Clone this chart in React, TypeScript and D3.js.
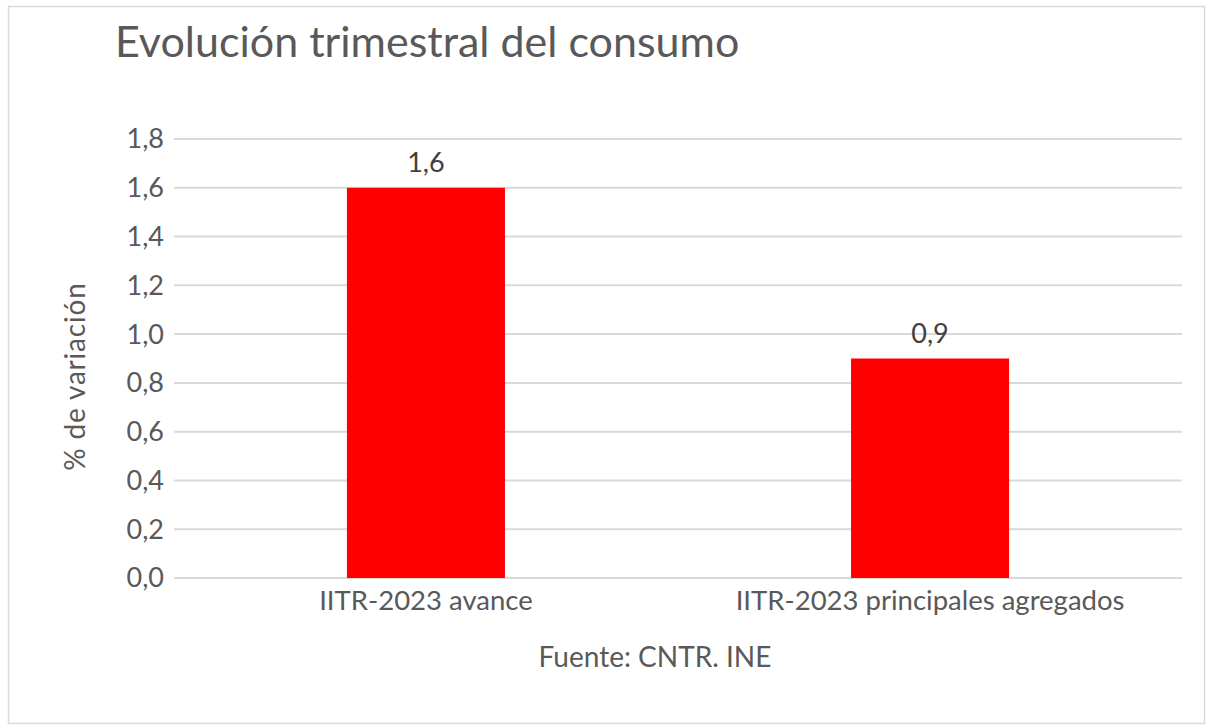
import * as d3 from "d3";

const CATEGORIES = ["IITR-2023 avance", "IITR-2023 principales agregados"];
const VALUES = [1.6, 0.9];
const Y_TICKS = [0, 0.2, 0.4, 0.6, 0.8, 1.0, 1.2, 1.4, 1.6, 1.8];

const W = 1214;
const H = 728;
const FONT = "Lato, 'Open Sans', sans-serif";
const GREY = "#595959";
const GRID = "#d9d9d9";
const RED = "#ff0000";

const fmt = (v: number) => v.toFixed(1).replace(".", ",");

export default function App() {
  const margin = { left: 174, right: 32, top: 139, bottom: 150 };
  const x = d3
    .scaleBand<string>()
    .domain(CATEGORIES)
    .range([margin.left, W - margin.right])
    .paddingInner(0.6865)
    .paddingOuter(0.343);
  const y = d3.scaleLinear().domain([0, 1.8]).range([H - margin.bottom, margin.top]);

  return (
    <div style={{ position: "absolute", left: 0, top: 0 }}>
      <svg width={W} height={H} style={{ display: "block", fontFamily: FONT }}>
        <rect x={0} y={0} width={W} height={H} fill="#fff" />
        <rect x={8.5} y={6.5} width={1196} height={717} fill="none" stroke={GRID} strokeWidth={1.5} />

        <text x={115} y={57} fontSize={43} fill={GREY}>
          Evolución trimestral del consumo
        </text>

        {/* gridlines */}
        {Y_TICKS.map((t) => (
          <g key={t}>
            <line
              x1={margin.left}
              x2={W - margin.right}
              y1={y(t)}
              y2={y(t)}
              stroke={GRID}
              strokeWidth={2}
            />
            <text
              x={164}
              y={y(t)}
              dy="0.35em"
              textAnchor="end"
              fontSize={27}
              fill={GREY}
            >
              {fmt(t)}
            </text>
          </g>
        ))}

        {/* bars */}
        {CATEGORIES.map((c, i) => (
          <g key={c}>
            <rect
              x={x(c)}
              y={y(VALUES[i])}
              width={x.bandwidth()}
              height={y(0) - y(VALUES[i])}
              fill={RED}
            />
            <text
              x={(x(c) ?? 0) + x.bandwidth() / 2}
              y={y(VALUES[i]) - 16}
              textAnchor="middle"
              fontSize={27}
              fill="#404040"
            >
              {fmt(VALUES[i])}
            </text>
            <text
              x={(x(c) ?? 0) + x.bandwidth() / 2}
              y={610}
              textAnchor="middle"
              fontSize={27.5}
              fill={GREY}
            >
              {c}
            </text>
          </g>
        ))}

        <text x={655} y={667} textAnchor="middle" fontSize={28} fill={GREY}>
          Fuente: CNTR. INE
        </text>

        <text
          transform={`translate(85,${(y(0) + y(1.8)) / 2 + 18}) rotate(-90)`}
          textAnchor="middle"
          fontSize={28}
          fill={GREY}
          letterSpacing={0.8}
        >
          % de variación
        </text>
      </svg>
    </div>
  );
}
